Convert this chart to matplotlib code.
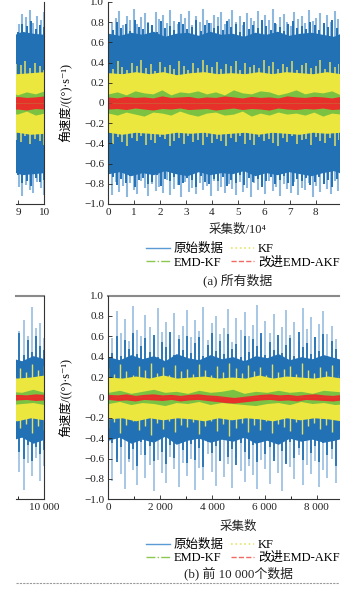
import matplotlib
matplotlib.use('Agg')
import matplotlib.pyplot as plt
import numpy as np
from matplotlib.lines import Line2D
from matplotlib.ticker import FuncFormatter, MultipleLocator

plt.rcParams['font.family'] = ['Liberation Serif', 'Noto Sans CJK SC', 'DejaVu Serif']

# ---- (a) 所有数据，横轴单位 10^4 ----
# 原始数据：外沿浅色毛刺、深色毛刺、深色实心部分
a_raw_spk_hi = [0.88, 0.79, 0.84, 0.91, 0.77, 0.86, 0.82, 0.93, 0.78, 0.85, 0.89, 0.80, 0.76, 0.90, 0.83,
                0.87, 0.79, 0.92, 0.81, 0.78, 0.88, 0.84, 0.91, 0.77, 0.86, 0.80, 0.93, 0.82, 0.79, 0.87,
                0.85, 0.90, 0.78, 0.83, 0.92, 0.80, 0.86, 0.77, 0.89, 0.84, 0.81, 0.91, 0.79, 0.87, 0.82,
                0.93, 0.78, 0.85, 0.88, 0.80, 0.76, 0.90, 0.83, 0.86, 0.79, 0.92, 0.81, 0.84, 0.89, 0.77,
                0.87, 0.80, 0.91, 0.83, 0.78, 0.88, 0.85, 0.92, 0.79, 0.86, 0.82, 0.90]
a_raw_spk_lo = [-0.85, -0.91, -0.78, -0.88, -0.82, -0.93, -0.79, -0.86, -0.90, -0.77, -0.84, -0.92, -0.80,
                -0.87, -0.83, -0.89, -0.76, -0.91, -0.85, -0.81, -0.93, -0.78, -0.88, -0.84, -0.90, -0.79,
                -0.86, -0.82, -0.92, -0.77, -0.87, -0.83, -0.89, -0.80, -0.85, -0.91, -0.78, -0.88, -0.84,
                -0.93, -0.79, -0.86, -0.81, -0.90, -0.77, -0.87, -0.83, -0.92, -0.80, -0.85, -0.89, -0.78,
                -0.91, -0.84, -0.86, -0.79, -0.93, -0.82, -0.88, -0.80, -0.85, -0.90, -0.77, -0.87, -0.83,
                -0.92, -0.81, -0.86, -0.89, -0.78, -0.84, -0.91]
a_raw_mid_hi = [0.76, 0.72, 0.80, 0.74, 0.78, 0.71, 0.82, 0.75, 0.73, 0.79, 0.77, 0.70, 0.81, 0.74, 0.76,
                0.72, 0.80, 0.78, 0.73, 0.75, 0.82, 0.71, 0.77, 0.79, 0.74, 0.76, 0.72, 0.81, 0.75, 0.78,
                0.70, 0.80, 0.73, 0.77, 0.74, 0.82, 0.76, 0.72, 0.79, 0.75, 0.71, 0.78, 0.81, 0.74, 0.76,
                0.73, 0.80, 0.77, 0.72, 0.79, 0.75, 0.82, 0.74, 0.70, 0.78, 0.76, 0.81, 0.73, 0.77, 0.75]
a_raw_mid_lo = [-0.77, -0.73, -0.81, -0.75, -0.79, -0.72, -0.83, -0.76, -0.74, -0.80, -0.78, -0.71, -0.82,
                -0.75, -0.77, -0.73, -0.81, -0.79, -0.74, -0.76, -0.83, -0.72, -0.78, -0.80, -0.75, -0.77,
                -0.73, -0.82, -0.76, -0.79, -0.71, -0.81, -0.74, -0.78, -0.75, -0.83, -0.77, -0.73, -0.80,
                -0.76, -0.72, -0.79, -0.82, -0.75, -0.77, -0.74, -0.81, -0.78, -0.73, -0.80, -0.76, -0.83,
                -0.75, -0.71, -0.79, -0.77, -0.82, -0.74, -0.78, -0.76]
a_raw_core_hi = [0.69, 0.67, 0.70, 0.68, 0.71, 0.66, 0.69, 0.70, 0.67, 0.71, 0.68, 0.69, 0.66, 0.70, 0.68,
                 0.71, 0.67, 0.69, 0.70, 0.68, 0.66, 0.71, 0.69, 0.68]
a_raw_core_lo = [-0.70, -0.68, -0.72, -0.69, -0.71, -0.67, -0.70, -0.72, -0.68, -0.71, -0.69, -0.70, -0.67,
                 -0.72, -0.69, -0.71, -0.68, -0.70, -0.72, -0.69, -0.67, -0.71, -0.70, -0.69]
# KF
a_kf_spk_hi = [0.38, 0.34, 0.42, 0.36, 0.33, 0.40, 0.37, 0.43, 0.35, 0.39, 0.32, 0.41, 0.36, 0.38, 0.34,
               0.42, 0.37, 0.33, 0.40, 0.35, 0.43, 0.38, 0.36, 0.41, 0.34, 0.39, 0.37, 0.42, 0.33, 0.40,
               0.36, 0.38, 0.35, 0.43, 0.37, 0.41, 0.34, 0.39, 0.36, 0.42, 0.33, 0.38, 0.40, 0.35, 0.37,
               0.43, 0.34, 0.41, 0.36, 0.39, 0.38, 0.42, 0.35, 0.40, 0.37, 0.33]
a_kf_spk_lo = [-0.36, -0.41, -0.34, -0.39, -0.43, -0.35, -0.38, -0.33, -0.42, -0.37, -0.40, -0.34, -0.36,
               -0.43, -0.38, -0.35, -0.41, -0.33, -0.39, -0.37, -0.42, -0.34, -0.40, -0.36, -0.38, -0.43,
               -0.35, -0.39, -0.33, -0.41, -0.37, -0.42, -0.34, -0.38, -0.36, -0.40, -0.43, -0.35, -0.39,
               -0.33, -0.41, -0.37, -0.36, -0.42, -0.34, -0.38, -0.40, -0.35, -0.43, -0.37, -0.39, -0.33,
               -0.41, -0.36, -0.38, -0.42]
a_kf_core_hi = [0.30, 0.29, 0.31, 0.29, 0.31, 0.28, 0.30, 0.31, 0.29, 0.30, 0.29, 0.31, 0.29, 0.31, 0.30,
                0.29, 0.31, 0.29, 0.30, 0.31]
a_kf_core_lo = [-0.29, -0.31, -0.29, -0.30, -0.31, -0.29, -0.30, -0.29, -0.31, -0.30, -0.29, -0.31, -0.29,
                -0.30, -0.31, -0.29, -0.30, -0.29, -0.31, -0.30]
# EMD-KF
a_ekf_hi = [0.09, 0.11, 0.08, 0.12, 0.10, 0.09, 0.13, 0.08, 0.11, 0.10, 0.12, 0.09, 0.11, 0.08, 0.13, 0.10,
            0.09, 0.12, 0.11, 0.08, 0.10, 0.13, 0.09, 0.11, 0.10, 0.12, 0.08, 0.11, 0.09, 0.12]
a_ekf_lo = [-0.10, -0.12, -0.09, -0.11, -0.13, -0.09, -0.10, -0.12, -0.08, -0.11, -0.13, -0.10, -0.09,
            -0.12, -0.11, -0.08, -0.13, -0.10, -0.12, -0.09, -0.11, -0.10, -0.12, -0.09, -0.13, -0.10,
            -0.11, -0.08, -0.12, -0.10]
# 改进 EMD-AKF
a_akf_hi = [0.06, 0.05, 0.065, 0.055, 0.06, 0.05, 0.07, 0.055, 0.06, 0.065, 0.05, 0.06, 0.055, 0.07, 0.06,
            0.05, 0.065, 0.055, 0.06, 0.05, 0.07, 0.06, 0.055, 0.065, 0.06, 0.05, 0.065, 0.055, 0.06, 0.07]
a_akf_lo = [-0.06, -0.055, -0.065, -0.05, -0.06, -0.07, -0.055, -0.06, -0.05, -0.065, -0.06, -0.055,
            -0.07, -0.06, -0.05, -0.065, -0.055, -0.06, -0.07, -0.05, -0.06, -0.065, -0.055, -0.06, -0.05,
            -0.065, -0.06, -0.07, -0.055, -0.06]

# ---- (b) 前 10 000 个数据 ----
b_raw_spk_hi = [0.72, 0.58, 0.85, 0.63, 0.77, 0.55, 0.90, 0.66, 0.60, 0.81, 0.69, 0.57, 0.88, 0.64, 0.74,
                0.52, 0.83, 0.61, 0.70, 0.86, 0.59, 0.76, 0.65, 0.89, 0.56, 0.73, 0.80, 0.62, 0.68, 0.87,
                0.54, 0.78, 0.66, 0.84, 0.60, 0.71, 0.91, 0.58, 0.75, 0.63, 0.82, 0.57, 0.69, 0.86, 0.61,
                0.74, 0.55, 0.88, 0.67, 0.79, 0.59, 0.72, 0.85, 0.62, 0.70, 0.57, 0.83, 0.65, 0.76, 0.60,
                0.89, 0.68, 0.73, 0.58]
b_raw_spk_lo = [-0.68, -0.82, -0.59, -0.75, -0.90, -0.63, -0.71, -0.86, -0.57, -0.79, -0.66, -0.92, -0.61,
                -0.74, -0.84, -0.58, -0.70, -0.88, -0.64, -0.77, -0.60, -0.91, -0.69, -0.81, -0.56, -0.73,
                -0.87, -0.62, -0.78, -0.65, -0.89, -0.59, -0.72, -0.83, -0.67, -0.76, -0.90, -0.61, -0.70,
                -0.85, -0.58, -0.74, -0.92, -0.63, -0.68, -0.80, -0.57, -0.86, -0.66, -0.75, -0.62, -0.88,
                -0.71, -0.79, -0.60, -0.84, -0.69, -0.73, -0.91, -0.64, -0.77, -0.59, -0.82, -0.67]
b_raw_mid_hi = [0.52, 0.44, 0.60, 0.41, 0.56, 0.48, 0.63, 0.43, 0.50, 0.58, 0.45, 0.61, 0.40, 0.54, 0.49,
                0.64, 0.42, 0.57, 0.47, 0.60, 0.44, 0.53, 0.59, 0.41, 0.51, 0.63, 0.46, 0.55, 0.43, 0.62,
                0.48, 0.52, 0.40, 0.60, 0.45, 0.57, 0.50, 0.63, 0.42, 0.54, 0.47, 0.61, 0.44, 0.51, 0.58,
                0.41, 0.64, 0.49, 0.53, 0.43, 0.59, 0.46, 0.62, 0.40, 0.55, 0.48, 0.52, 0.63, 0.42, 0.56,
                0.45, 0.60, 0.50, 0.47]
b_raw_mid_lo = [-0.56, -0.45, -0.63, -0.49, -0.42, -0.60, -0.51, -0.67, -0.44, -0.57, -0.48, -0.62, -0.41,
                -0.54, -0.65, -0.47, -0.59, -0.43, -0.52, -0.64, -0.46, -0.61, -0.50, -0.68, -0.44, -0.55,
                -0.48, -0.62, -0.42, -0.58, -0.51, -0.66, -0.45, -0.54, -0.60, -0.47, -0.63, -0.43, -0.56,
                -0.49, -0.62, -0.46, -0.53, -0.65, -0.44, -0.59, -0.50, -0.61, -0.42, -0.55, -0.48, -0.63,
                -0.45, -0.57, -0.51, -0.67, -0.43, -0.54, -0.60, -0.47, -0.62, -0.49, -0.56, -0.52]
b_raw_core_hi = [0.40, 0.37, 0.42, 0.38, 0.41, 0.36, 0.43, 0.39, 0.37, 0.42, 0.38, 0.40, 0.36, 0.41, 0.39,
                 0.43, 0.37, 0.40, 0.38, 0.42, 0.39, 0.36, 0.41, 0.38]
b_raw_core_lo = [-0.42, -0.39, -0.45, -0.41, -0.44, -0.38, -0.46, -0.42, -0.40, -0.44, -0.41, -0.43, -0.39,
                 -0.45, -0.42, -0.46, -0.40, -0.43, -0.41, -0.44, -0.42, -0.39, -0.45, -0.41]
b_kf_spk_hi = [0.29, 0.23, 0.33, 0.26, 0.22, 0.31, 0.27, 0.34, 0.24, 0.30, 0.22, 0.32, 0.26, 0.28, 0.23,
               0.33, 0.27, 0.22, 0.31, 0.25, 0.34, 0.29, 0.24, 0.32, 0.26, 0.30, 0.22, 0.33, 0.25, 0.28,
               0.31, 0.23, 0.34, 0.27, 0.24, 0.30, 0.26, 0.32, 0.22, 0.29, 0.25, 0.33, 0.27, 0.31]
b_kf_spk_lo = [-0.30, -0.24, -0.35, -0.27, -0.23, -0.32, -0.28, -0.37, -0.25, -0.31, -0.23, -0.34, -0.27,
               -0.29, -0.24, -0.36, -0.28, -0.23, -0.33, -0.26, -0.38, -0.30, -0.25, -0.34, -0.27, -0.32,
               -0.23, -0.35, -0.26, -0.29, -0.33, -0.24, -0.36, -0.28, -0.25, -0.31, -0.27, -0.34, -0.23,
               -0.30, -0.26, -0.35, -0.28, -0.32]
b_kf_core_hi = [0.20, 0.19, 0.21, 0.19, 0.22, 0.19, 0.20, 0.21, 0.19, 0.20, 0.19, 0.22, 0.19, 0.21, 0.20,
                0.19, 0.21, 0.19, 0.20, 0.22]
b_kf_core_lo = [-0.21, -0.20, -0.23, -0.20, -0.22, -0.20, -0.21, -0.23, -0.20, -0.22, -0.20, -0.21, -0.23,
                -0.20, -0.22, -0.20, -0.21, -0.23, -0.20, -0.22]
b_ekf_hi = [0.05, 0.07, 0.04, 0.06, 0.08, 0.05, 0.06, 0.04, 0.07, 0.05, 0.06, 0.08, 0.04, 0.06, 0.05,
            0.07, 0.05, 0.06, 0.04, 0.07, 0.06, 0.05, 0.08, 0.05]
b_ekf_lo = [-0.06, -0.04, -0.07, -0.05, -0.06, -0.08, -0.05, -0.06, -0.04, -0.07, -0.05, -0.06, -0.07,
            -0.08, -0.06, -0.05, -0.07, -0.04, -0.06, -0.05, -0.07, -0.06, -0.05, -0.07]
b_akf_hi = [0.03, 0.025, 0.035, 0.02, 0.03, 0.035, 0.025, 0.03, 0.02, 0.03, 0.035, 0.025, 0.02, 0.01,
            0.0, 0.01, 0.02, 0.03, 0.035, 0.025, 0.03, 0.02, 0.03, 0.035, 0.025, 0.02, 0.03, 0.025,
            0.035, 0.03]
b_akf_lo = [-0.02, -0.03, -0.025, -0.035, -0.02, -0.025, -0.03, -0.02, -0.035, -0.025, -0.02, -0.03,
            -0.04, -0.05, -0.055, -0.045, -0.035, -0.025, -0.02, -0.03, -0.025, -0.035, -0.02, -0.025,
            -0.03, -0.035, -0.025, -0.02, -0.03, -0.025]

labels = ['原始数据', 'KF', 'EMD-KF', '改进EMD-AKF']
c_blue_lt, c_blue, c_yel, c_yel_lt, c_grn, c_red = '#8fb8df', '#2271b5', '#ebe73f', '#e3df62', '#7cc242', '#e8302b'


def spikes(ax, x_end, vals, color, z, lw):
    x = np.linspace(0, x_end, len(vals))
    ax.vlines(x, 0, vals, colors=color, linewidth=lw, zorder=z)


def band(ax, x_end, vals, color, z):
    x = np.linspace(0, x_end, len(vals))
    ax.fill_between(x, 0, vals, color=color, lw=0, zorder=z)


def draw_panel(ax, x_end, d, lw_lt, lw_dk, lw_kf):
    for v in d['raw_spk']:
        spikes(ax, x_end, v, c_blue_lt, 1.0, lw_lt)
    for v in d['raw_mid']:
        spikes(ax, x_end, v, c_blue, 1.1, lw_dk)
    for v in d['raw_core']:
        band(ax, x_end, v, c_blue, 1.2)
    for v in d['kf_spk']:
        spikes(ax, x_end, v, c_yel_lt, 1.3, lw_kf)
    for v in d['kf_core']:
        band(ax, x_end, v, c_yel, 1.4)
    for v in d['ekf']:
        band(ax, x_end, v, c_grn, 1.5)
    for v in d['akf']:
        band(ax, x_end, v, c_red, 1.6)


def yfmt(v, pos):
    return '0' if abs(v) < 1e-9 else f'{v:.1f}'.replace('-', '\u2212')


def kfmt(v, pos):
    return f'{int(round(v)):,}'.replace(',', ' ')


def style(ax, strip, top_spine):
    ax.set_ylim(-1, 1)
    ax.tick_params(direction='in', length=3, width=0.6, labelsize=8, colors='#222', pad=3)
    ax.tick_params(which='minor', direction='in', length=2, width=0.6)
    for s in ('bottom', 'left', 'right'):
        ax.spines[s].set_color('#333')
        ax.spines[s].set_zorder(3)
    ax.spines['top'].set_visible(top_spine)
    ax.spines['top'].set_color('#8a8a8a')
    ax.spines['top'].set_linewidth(1.5)
    if strip:
        ax.spines['left'].set_visible(False)
        ax.set_yticks([])
    else:
        ax.spines['right'].set_visible(False)
        ax.yaxis.set_major_locator(MultipleLocator(0.2))
        ax.yaxis.set_major_formatter(FuncFormatter(yfmt))
        ax.set_ylabel('角速度/((°)·s⁻¹)', fontsize=8.7)
        ax.yaxis.set_label_coords(-0.153, 0.5)


fig = plt.figure(figsize=(3.51, 5.94), dpi=100)

data_a = {'raw_spk': [a_raw_spk_hi, a_raw_spk_lo], 'raw_mid': [a_raw_mid_hi, a_raw_mid_lo],
          'raw_core': [a_raw_core_hi, a_raw_core_lo], 'kf_spk': [a_kf_spk_hi, a_kf_spk_lo],
          'kf_core': [a_kf_core_hi, a_kf_core_lo], 'ekf': [a_ekf_hi, a_ekf_lo], 'akf': [a_akf_hi, a_akf_lo]}
data_b = {'raw_spk': [b_raw_spk_hi, b_raw_spk_lo], 'raw_mid': [b_raw_mid_hi, b_raw_mid_lo],
          'raw_core': [b_raw_core_hi, b_raw_core_lo], 'kf_spk': [b_kf_spk_hi, b_kf_spk_lo],
          'kf_core': [b_kf_core_hi, b_kf_core_lo], 'ekf': [b_ekf_hi, b_ekf_lo], 'akf': [b_akf_hi, b_akf_lo]}

# 上图
ax1 = fig.add_axes([0.3085, 0.6566, 0.6573, 0.3401])
ax1s = fig.add_axes([0.0456, 0.6566, 0.0806, 0.3401])
for ax in (ax1, ax1s):
    draw_panel(ax, 10, data_a, 1.5, 1.4, 1.1)
ax1.set_xlim(0, 8.9)
ax1s.set_xlim(8.907, 10)
ax1.set_xticks(range(0, 9))
ax1s.set_xticks([9, 10])
style(ax1, False, False)
style(ax1s, True, False)

# 下图
ax2 = fig.add_axes([0.3085, 0.1594, 0.6573, 0.3431])
ax2s = fig.add_axes([0.0456, 0.1594, 0.0806, 0.3431])
for ax in (ax2, ax2s):
    draw_panel(ax, 10000, data_b, 1.1, 1.3, 1.0)
    ax.xaxis.set_minor_locator(MultipleLocator(1000))
    ax.xaxis.set_major_formatter(FuncFormatter(kfmt))
ax2.set_xlim(0, 8856)
ax2s.set_xlim(8914, 10000)
ax2.set_xticks(range(0, 9000, 2000))
ax2s.set_xticks([10000])
style(ax2, False, True)
style(ax2s, True, True)

fig.text(238 / 351, 1 - 230 / 594, '采集数/10⁴', ha='center', va='center', fontsize=9, color='#222')
fig.text(238 / 351, 1 - 527 / 594, '采集数', ha='center', va='center', fontsize=9, color='#222')

handles = [Line2D([], [], color='#5b9bd5', lw=1.0),
           Line2D([], [], color='#e8e46a', lw=1.2, ls=':'),
           Line2D([], [], color='#8cc850', lw=1.0, ls='-.'),
           Line2D([], [], color='#ef6a60', lw=1.0, ls='--')]
order = [0, 2, 1, 3]
for yc in (256, 551.5):
    fig.legend([handles[i] for i in order], [labels[i] for i in order], ncol=2,
               loc='center', bbox_to_anchor=(243 / 351, 1 - yc / 594), frameon=False,
               fontsize=9.0, handlelength=1.9, handletextpad=0.3, columnspacing=0.55,
               labelspacing=0.1, borderpad=0, borderaxespad=0)

fig.text(238 / 351, 1 - 280 / 594, '(a) 所有数据', ha='center', va='center', fontsize=9.3, color='#222')
fig.text(238 / 351, 1 - 573 / 594, '(b) 前 10 000个数据', ha='center', va='center', fontsize=9.3, color='#222')

fig.add_artist(Line2D([16 / 351, 339 / 351], [1 - 583 / 594] * 2, color='#9a9a9a', lw=0.8,
                      ls=(0, (2, 1))))

fig.savefig('out.png', dpi=100)
